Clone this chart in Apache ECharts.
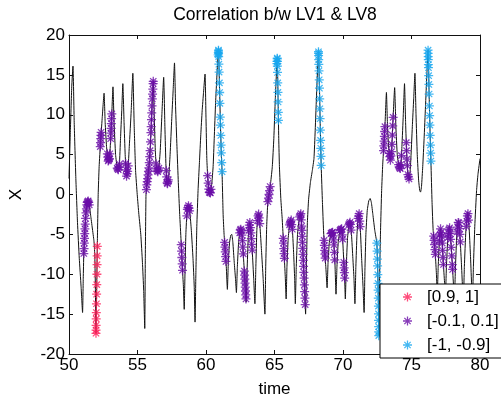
<!DOCTYPE html>
<html><head><meta charset="utf-8">
<script src="https://cdn.jsdelivr.net/npm/echarts@6/dist/echarts.min.js"></script>
<style>html,body{margin:0;padding:0;background:#fff}#c{width:501px;height:403px}</style>
</head><body><div id="c"></div>
<script>
const titleText = 'Correlation b/w LV1 & LV8';
const xName = 'time';
const yName = 'X';
const legendNames = ['[0.9, 1]', '[-0.1, 0.1]', '[-1, -0.9]'];

const signal = [
[50.00,2.0],[50.10,8.0],[50.20,13.5],[50.29,16.1],[50.38,9.0],[50.50,2.0],[50.62,-3.5],[50.75,-8.0],[50.88,-11.5],[50.99,-14.8],
[51.04,-10.5],[51.08,-7.5],[51.16,-4.5],[51.24,-2.3],[51.32,-1.0],[51.40,-0.8],[51.48,-1.3],[51.58,-2.6],[51.70,-4.2],[51.82,-5.8],[51.88,-7.5],[51.92,-11.0],[51.97,-17.4],
[52.02,-12.0],[52.07,-6.0],[52.13,0.0],[52.20,3.5],[52.30,6.5],[52.42,9.5],[52.56,12.7],[52.64,9.0],[52.74,6.0],[52.86,4.2],[52.96,4.5],
[53.04,7.0],[53.12,10.0],[53.21,13.5],[53.29,9.0],[53.40,5.0],[53.52,3.3],[53.60,3.1],[53.68,3.8],[53.76,7.0],[53.85,10.5],[53.93,13.9],
[54.02,9.0],[54.10,5.0],[54.20,2.3],[54.30,3.0],[54.40,6.0],[54.54,10.5],[54.66,15.2],[54.76,8.5],[54.86,3.0],[54.98,0.0],
[55.10,-2.5],[55.24,-5.0],[55.36,-8.5],[55.45,-12.0],[55.53,-16.8],[55.57,-8.0],[55.62,0.0],[55.68,1.2],[55.76,2.3],[55.84,3.5],[55.92,5.5],
[56.00,8.5],[56.08,12.0],[56.15,14.2],[56.22,10.0],[56.30,5.5],[56.38,3.3],[56.47,2.8],[56.56,3.3],[56.66,5.5],[56.78,10.0],[56.91,14.7],
[57.00,8.5],[57.08,3.5],[57.17,1.2],[57.27,2.0],[57.38,5.0],[57.50,9.5],[57.60,13.0],[57.70,16.5],[57.78,11.0],[57.88,6.0],[57.98,1.5],
[58.08,-2.5],[58.18,-5.8],[58.27,-9.0],[58.35,-11.5],[58.41,-14.4],[58.47,-9.5],[58.53,-5.0],[58.62,-2.0],[58.72,-1.4],[58.82,-2.2],[58.93,-4.5],
[59.05,-8.0],[59.14,-11.5],[59.20,-16.0],[59.26,-10.0],[59.33,-4.0],[59.42,0.5],[59.52,4.0],[59.62,7.5],[59.72,10.5],[59.82,12.8],[59.93,15.1],
[60.00,9.5],[60.06,4.5],[60.13,2.0],[60.22,0.3],[60.32,0.2],[60.42,1.3],[60.52,3.5],[60.60,7.0],[60.70,11.5],[60.80,15.0],[60.91,18.1],
[60.98,14.0],[61.05,9.0],[61.12,5.0],[61.17,3.0],[61.25,-2.5],[61.32,-5.0],[61.40,-7.0],[61.48,-9.0],[61.56,-11.9],[61.63,-8.5],[61.72,-6.0],[61.81,-5.1],[61.88,-5.0],[61.96,-6.0],
[62.06,-8.5],[62.15,-10.5],[62.22,-12.3],[62.29,-9.0],[62.38,-6.0],[62.48,-4.5],[62.56,-4.3],[62.65,-5.5],[62.74,-8.0],[62.83,-10.5],[62.93,-13.5],
[63.00,-9.5],[63.08,-5.5],[63.14,-4.0],[63.20,-3.5],[63.28,-4.8],[63.38,-7.2],[63.48,-10.5],[63.57,-13.7],[63.64,-9.0],[63.71,-4.5],[63.78,-2.8],[63.85,-2.4],[63.94,-4.0],
[64.05,-7.0],[64.17,-10.5],[64.30,-15.0],[64.36,-9.0],[64.43,-4.0],[64.51,-1.0],[64.60,0.0],[64.72,1.5],[64.84,3.5],[64.95,7.0],
[65.06,12.0],[65.20,17.1],[65.26,12.0],[65.31,7.0],[65.36,3.5],[65.46,-0.5],[65.56,-3.0],[65.64,-5.5],[65.72,-8.0],[65.79,-10.5],[65.85,-13.1],[65.91,-9.0],
[66.00,-5.5],[66.10,-3.8],[66.22,-3.2],[66.31,-4.5],[66.40,-7.5],[66.47,-10.5],[66.52,-13.7],[66.59,-9.0],[66.68,-5.0],[66.80,-3.0],[66.92,-2.4],
[67.00,-4.5],[67.08,-7.5],[67.16,-10.5],[67.22,-13.0],[67.27,-15.0],[67.33,-9.0],[67.40,-3.5],[67.49,-0.6],[67.62,1.5],[67.76,3.0],[67.88,4.5],[67.97,8.0],
[68.08,13.0],[68.21,17.9],[68.28,13.5],[68.34,8.5],[68.41,3.5],[68.50,-1.0],[68.58,-4.5],[68.66,-7.0],[68.75,-9.2],[68.84,-11.7],[68.91,-8.5],
[69.00,-6.0],[69.12,-4.9],[69.25,-4.7],[69.33,-6.0],[69.41,-8.5],[69.49,-12.5],[69.56,-9.0],[69.65,-6.0],[69.78,-4.5],[69.90,-4.3],[69.98,-5.8],
[70.06,-8.5],[70.12,-10.5],[70.17,-13.1],[70.24,-9.0],[70.33,-5.5],[70.43,-3.8],[70.53,-3.4],[70.62,-5.0],[70.72,-8.0],[70.80,-10.5],[70.87,-13.7],[70.94,-9.0],
[71.02,-5.0],[71.10,-3.0],[71.18,-2.4],[71.27,-4.5],[71.36,-8.0],[71.46,-11.5],[71.54,-14.8],[71.60,-9.5],[71.67,-5.0],[71.77,-2.0],[71.88,-0.8],[71.98,-0.5],
[72.07,-1.0],[72.18,-2.5],[72.32,-4.5],[72.47,-6.1],[72.52,-8.6],[72.56,-11.5],[72.59,-14.5],[72.61,-17.7],[72.67,-10.5],[72.74,-4.5],[72.82,0.5],[72.90,3.8],[72.97,5.8],
[73.06,8.5],[73.17,12.8],[73.25,8.5],[73.35,5.5],[73.46,4.3],[73.55,5.5],[73.64,9.0],[73.77,13.4],[73.86,8.5],[73.96,5.0],
[74.08,3.5],[74.20,3.2],[74.30,6.0],[74.40,10.0],[74.49,13.9],[74.57,9.0],[74.65,5.0],[74.74,2.5],[74.84,1.8],[74.94,4.0],
[75.06,8.5],[75.16,12.0],[75.25,15.2],[75.33,10.0],[75.42,5.0],[75.52,1.8],[75.60,0.5],[75.66,0.3],[75.73,1.0],[75.82,3.5],[75.92,7.0],
[76.02,11.0],[76.12,15.0],[76.21,18.1],[76.28,13.0],[76.36,7.5],[76.42,4.0],[76.50,-1.0],[76.58,-4.5],[76.68,-6.3],[76.74,-7.5],[76.82,-10.0],[76.88,-12.5],[76.95,-9.0],
[77.03,-6.0],[77.12,-4.3],[77.22,-5.5],[77.32,-8.5],[77.41,-11.0],[77.47,-13.0],[77.55,-9.0],[77.65,-5.5],[77.77,-4.0],[77.87,-5.8],[77.98,-8.8],
[78.07,-11.5],[78.13,-13.3],[78.21,-9.0],[78.31,-5.0],[78.43,-3.2],[78.53,-5.0],[78.64,-8.5],[78.72,-11.5],[78.78,-13.8],[78.86,-9.0],[78.97,-4.5],
[79.11,-2.2],[79.20,-4.0],[79.30,-7.5],[79.38,-11.0],[79.44,-14.0],[79.52,-9.0],[79.62,-4.0],[79.75,0.5],[79.85,2.5],[80.00,4.5]
];

const redPts = [
[51.970,-17.4],[51.974,-17.0],[51.979,-16.4],[51.987,-15.6],[51.994,-14.8],[52.004,-13.7],[52.015,-12.5],[52.026,-11.3],[52.037,-10.0],[52.047,-8.8],[52.056,-7.7],[52.066,-6.5]
];

const purplePts = [
[51.081,-7.4],[51.099,-6.8],[51.117,-6.1],[51.133,-5.5],[51.149,-4.9],[51.162,-4.3],[51.184,-3.7],[51.21,-3.0],
[51.24,-2.3],[51.27,-1.8],[51.30,-1.3],[51.33,-1.0],[51.36,-0.9],[51.40,-0.8],[51.44,-1.0],[51.48,-1.3],
[52.283,6.0],[52.30,6.5],[52.317,7.0],[52.33,7.4],[52.343,7.8],
[52.80,5.1],[52.83,4.7],[52.86,4.2],[52.89,4.3],[52.92,4.4],[52.95,4.5],[52.98,5.1],
[53.04,7.0],[53.059,7.7],[53.075,8.3],[53.091,8.9],[53.107,9.5],[53.123,10.1],
[53.52,3.3],[53.56,3.2],[53.60,3.1],[53.64,3.4],[53.68,3.8],
[54.14,3.9],[54.17,3.1],[54.20,2.3],[54.24,2.6],[54.28,2.9],[54.32,3.6],
[55.65,0.6],[55.68,1.2],[55.71,1.6],[55.74,2.0],[55.77,2.45],[55.80,2.9],[55.83,3.35],[55.86,4.0],[55.89,4.75],[55.92,5.5],[55.95,6.6],[55.98,7.75],[56.00,8.5],[56.02,9.4],[56.04,10.25],[56.06,11.1],[56.08,12.0],[56.10,12.6],[56.12,13.2],[56.14,13.9],[56.15,14.2],
[56.36,3.85],[56.40,3.2],[56.44,2.97],[56.48,2.86],[56.52,3.08],[56.56,3.3],
[57.10,3.0],[57.13,2.2],[57.16,1.45],[57.19,1.36],[57.22,1.6],[57.25,1.84],
[58.194,-6.3],[58.217,-7.1],[58.239,-7.9],[58.262,-8.7],[58.286,-9.5],
[58.60,-2.67],[58.64,-1.88],[58.68,-1.64],[58.72,-1.4],[58.76,-1.72],[58.80,-2.04],
[60.12,2.36],[60.16,1.43],[60.20,0.68],[60.24,0.28],[60.28,0.24],[60.32,0.2],[60.36,0.64],
[61.36,-6.0],[61.384,-6.6],[61.408,-7.2],[61.432,-7.8],[61.456,-8.4],
[62.46,-4.8],[62.50,-4.45],[62.54,-4.35],[62.58,-4.57],[62.62,-5.1],[62.66,-5.78],[62.69,-6.61],[62.72,-7.44],
[62.798,-9.6],[62.816,-10.1],[62.833,-10.6],[62.85,-11.1],[62.867,-11.6],[62.883,-12.1],[62.90,-12.6],[62.917,-13.1],
[63.12,-4.5],[63.16,-3.83],[63.20,-3.5],[63.24,-4.15],[63.28,-4.8],[63.31,-5.52],[63.34,-6.24],[63.37,-6.96],
[63.76,-3.29],[63.80,-2.69],[63.84,-2.46],[63.88,-2.93],[63.92,-3.64],
[64.52,-0.9],[64.56,-0.45],[64.60,0.0],[64.64,0.5],[64.68,1.0],
[65.64,-5.5],[65.66,-6.1],[65.68,-6.8],[65.70,-7.4],[65.72,-8.0],
[66.10,-3.8],[66.14,-3.6],[66.18,-3.4],[66.22,-3.2],[66.26,-3.78],[66.30,-4.36],
[66.84,-2.8],[66.88,-2.6],[66.92,-2.4],[66.95,-3.19],[66.98,-3.98],[67.00,-4.5],[67.02,-5.25],[67.04,-6.0],[67.06,-6.75],[67.08,-7.5],[67.10,-8.25],[67.12,-9.0],[67.14,-9.75],[67.16,-10.5],[67.18,-11.33],[67.20,-12.17],[67.22,-13.0],[67.24,-13.8],
[68.62,-5.75],[68.64,-6.38],[68.66,-7.0],[68.68,-7.49],[68.70,-7.98],
[69.12,-4.9],[69.16,-4.84],[69.20,-4.78],[69.24,-4.72],[69.28,-5.19],[69.31,-5.68],[69.34,-6.31],[69.37,-7.25],[69.40,-8.19],
[69.78,-4.5],[69.82,-4.43],[69.86,-4.37],[69.90,-4.3],[69.94,-5.05],[69.97,-5.6],
[70.06,-8.5],[70.08,-9.2],[70.10,-9.8],[70.12,-10.5],
[70.43,-3.8],[70.47,-3.64],[70.51,-3.48],[70.55,-3.76],[70.59,-4.47],
[71.10,-3.0],[71.14,-2.7],[71.18,-2.4],[71.22,-3.33],[71.25,-4.03],
[72.96,5.51],[72.98,6.1],[73.00,6.7],[73.02,7.3],[73.04,7.9],[73.06,8.5],
[73.38,5.17],[73.42,4.74],[73.46,4.3],[73.50,4.83],[73.54,5.37],[73.57,6.28],[73.60,7.44],[73.63,8.61],[73.66,9.68],
[74.06,3.75],[74.10,3.45],[74.14,3.35],[74.18,3.25],[74.22,3.76],[74.26,4.88],
[74.62,6.5],[74.64,5.5],[74.67,4.44],[74.70,3.61],[74.74,2.5],[74.78,2.22],[74.82,1.94],
[76.62,-5.22],[76.65,-5.76],[76.68,-6.3],[76.71,-6.9],[76.74,-7.5],
[77.04,-5.81],[77.08,-5.06],[77.12,-4.3],[77.16,-4.78],[77.20,-5.26],[77.24,-6.1],[77.27,-7.0],[77.30,-7.9],[77.33,-8.78],
[77.66,-5.38],[77.70,-4.88],[77.74,-4.38],[77.78,-4.18],[77.82,-4.9],[77.86,-5.62],[77.90,-6.62],[77.94,-7.7],[77.98,-8.8],[78.00,-9.4],
[78.33,-4.7],[78.37,-4.1],[78.41,-3.5],[78.45,-3.56],[78.49,-4.28],[78.53,-5.0],[78.56,-5.95],
[79.00,-4.0],[79.04,-3.35],[79.08,-2.69],[79.12,-2.4],[79.16,-3.2]
];

const bluePts = [
[60.89,17.5],[60.90,17.8],[60.91,18.1],[60.912,17.98],[60.917,17.69],[60.924,17.28],[60.94,16.34],[60.957,15.35],[60.98,14.0],[60.997,12.79],[61.016,11.43],[61.04,9.7],[61.055,8.71],[61.078,7.4],[61.099,6.2],[61.116,5.23],[61.145,4.0],[61.172,2.86],
[65.18,16.4],[65.19,16.7],[65.20,17.1],[65.201,17.0],[65.205,16.7],[65.212,16.1],[65.221,15.3],[65.236,14.0],[65.251,12.8],[65.264,11.6],[65.277,10.3],[65.287,9.3],
[68.21,17.9],[68.213,17.71],[68.218,17.4],[68.226,16.9],[68.235,16.33],[68.248,15.51],[68.266,14.38],[68.282,13.33],[68.298,12.0],[68.313,10.75],[68.328,9.5],[68.346,8.07],[68.364,6.79],[68.378,5.79],[68.392,4.79],[68.408,3.64],
[72.47,-6.1],[72.49,-7.1],[72.51,-8.1],[72.525,-8.96],[72.54,-10.05],[72.555,-11.14],[72.565,-12.0],[72.575,-13.0],[72.585,-14.0],[72.593,-14.98],[72.598,-15.78],[72.603,-16.58],[72.607,-17.22],[72.61,-17.7],
[76.21,18.1],[76.2155,17.7],[76.221,17.3],[76.2265,16.9],[76.235,16.3],[76.24,15.9],[76.254,14.9],[76.269,13.8],[76.286,12.6],[76.308,11.1],[76.325,9.9],[76.343,8.7],[76.362,7.4],[76.382,6.2],[76.399,5.2],[76.417,4.2]
];

const FONT = '"Liberation Sans", Arial, Helvetica, sans-serif';
const STAR = 'path://M0 8.6L20 8.6L20 11.4L0 11.4Z M8.6 0L11.4 0L11.4 20L8.6 20Z M3.99 2.01L17.99 16.01L16.01 17.99L2.01 3.99Z M2.01 16.01L16.01 2.01L17.99 3.99L3.99 17.99Z';
const colors = ['#ff1f5a', '#6a0ca8', '#17a6ef'];

function axisBase(extra) {
  return Object.assign({
    type: 'value',
    axisLine: { show: true, onZero: false, lineStyle: { color: '#111', width: 1 } },
    axisTick: { show: true, inside: true, length: 4, lineStyle: { color: '#111', width: 1 } },
    splitLine: { show: false }
  }, extra);
}

const chart = echarts.init(document.getElementById('c'), null, { renderer: 'canvas' });
chart.setOption({
  animation: false,
  backgroundColor: '#fff',
  title: {
    text: titleText, left: 270, top: 1, textAlign: 'center',
    textStyle: { fontFamily: FONT, fontSize: 17.5, fontWeight: 'normal', color: '#000' }
  },
  grid: { left: 66, right: 21, top: 35, bottom: 44, containLabel: false },
  xAxis: [
    axisBase({
      min: 50, max: 80, interval: 5, position: 'bottom',
      axisLabel: { color: '#000', fontSize: 17, fontFamily: FONT, margin: 3, showMinLabel: true, showMaxLabel: true },
      name: xName, nameLocation: 'middle', nameGap: 27,
      nameTextStyle: { color: '#000', fontSize: 17, fontFamily: FONT }
    }),
    axisBase({ min: 50, max: 80, interval: 5, position: 'top', axisLabel: { show: false } })
  ],
  yAxis: [
    axisBase({
      min: -20, max: 20, interval: 5, position: 'left',
      axisLabel: { color: '#000', fontSize: 17, fontFamily: FONT, margin: 4, showMinLabel: true, showMaxLabel: true },
      name: yName, nameLocation: 'middle', nameGap: 44, nameRotate: 90,
      nameTextStyle: { color: '#000', fontSize: 17, fontFamily: FONT }
    }),
    axisBase({ min: -20, max: 20, interval: 5, position: 'right', axisLabel: { show: false } })
  ],
  legend: {
    data: legendNames, orient: 'vertical', left: 380, top: 284,
    itemWidth: 9, itemHeight: 9, itemGap: 4,
    padding: [3, 6, 3, 23],
    borderColor: '#000', borderWidth: 1, borderRadius: 0, backgroundColor: '#fff',
    textStyle: { color: '#000', fontSize: 17, fontFamily: FONT, lineHeight: 20, padding: [0, 0, 0, 10] },
    selectedMode: false
  },
  series: [
    {
      name: 'signal', type: 'line', data: signal, showSymbol: false, smooth: 0.15,
      lineStyle: { color: '#111', width: 1 }, silent: true, z: 1
    },
    {
      name: legendNames[0], type: 'scatter', data: redPts, symbol: STAR, symbolSize: 9,
      itemStyle: { color: colors[0] }, z: 3, silent: true
    },
    {
      name: legendNames[1], type: 'scatter', data: purplePts, symbol: STAR, symbolSize: 9,
      itemStyle: { color: colors[1] }, z: 3, silent: true
    },
    {
      name: legendNames[2], type: 'scatter', data: bluePts, symbol: STAR, symbolSize: 9,
      itemStyle: { color: colors[2] }, z: 3, silent: true
    }
  ]
});
</script></body></html>
